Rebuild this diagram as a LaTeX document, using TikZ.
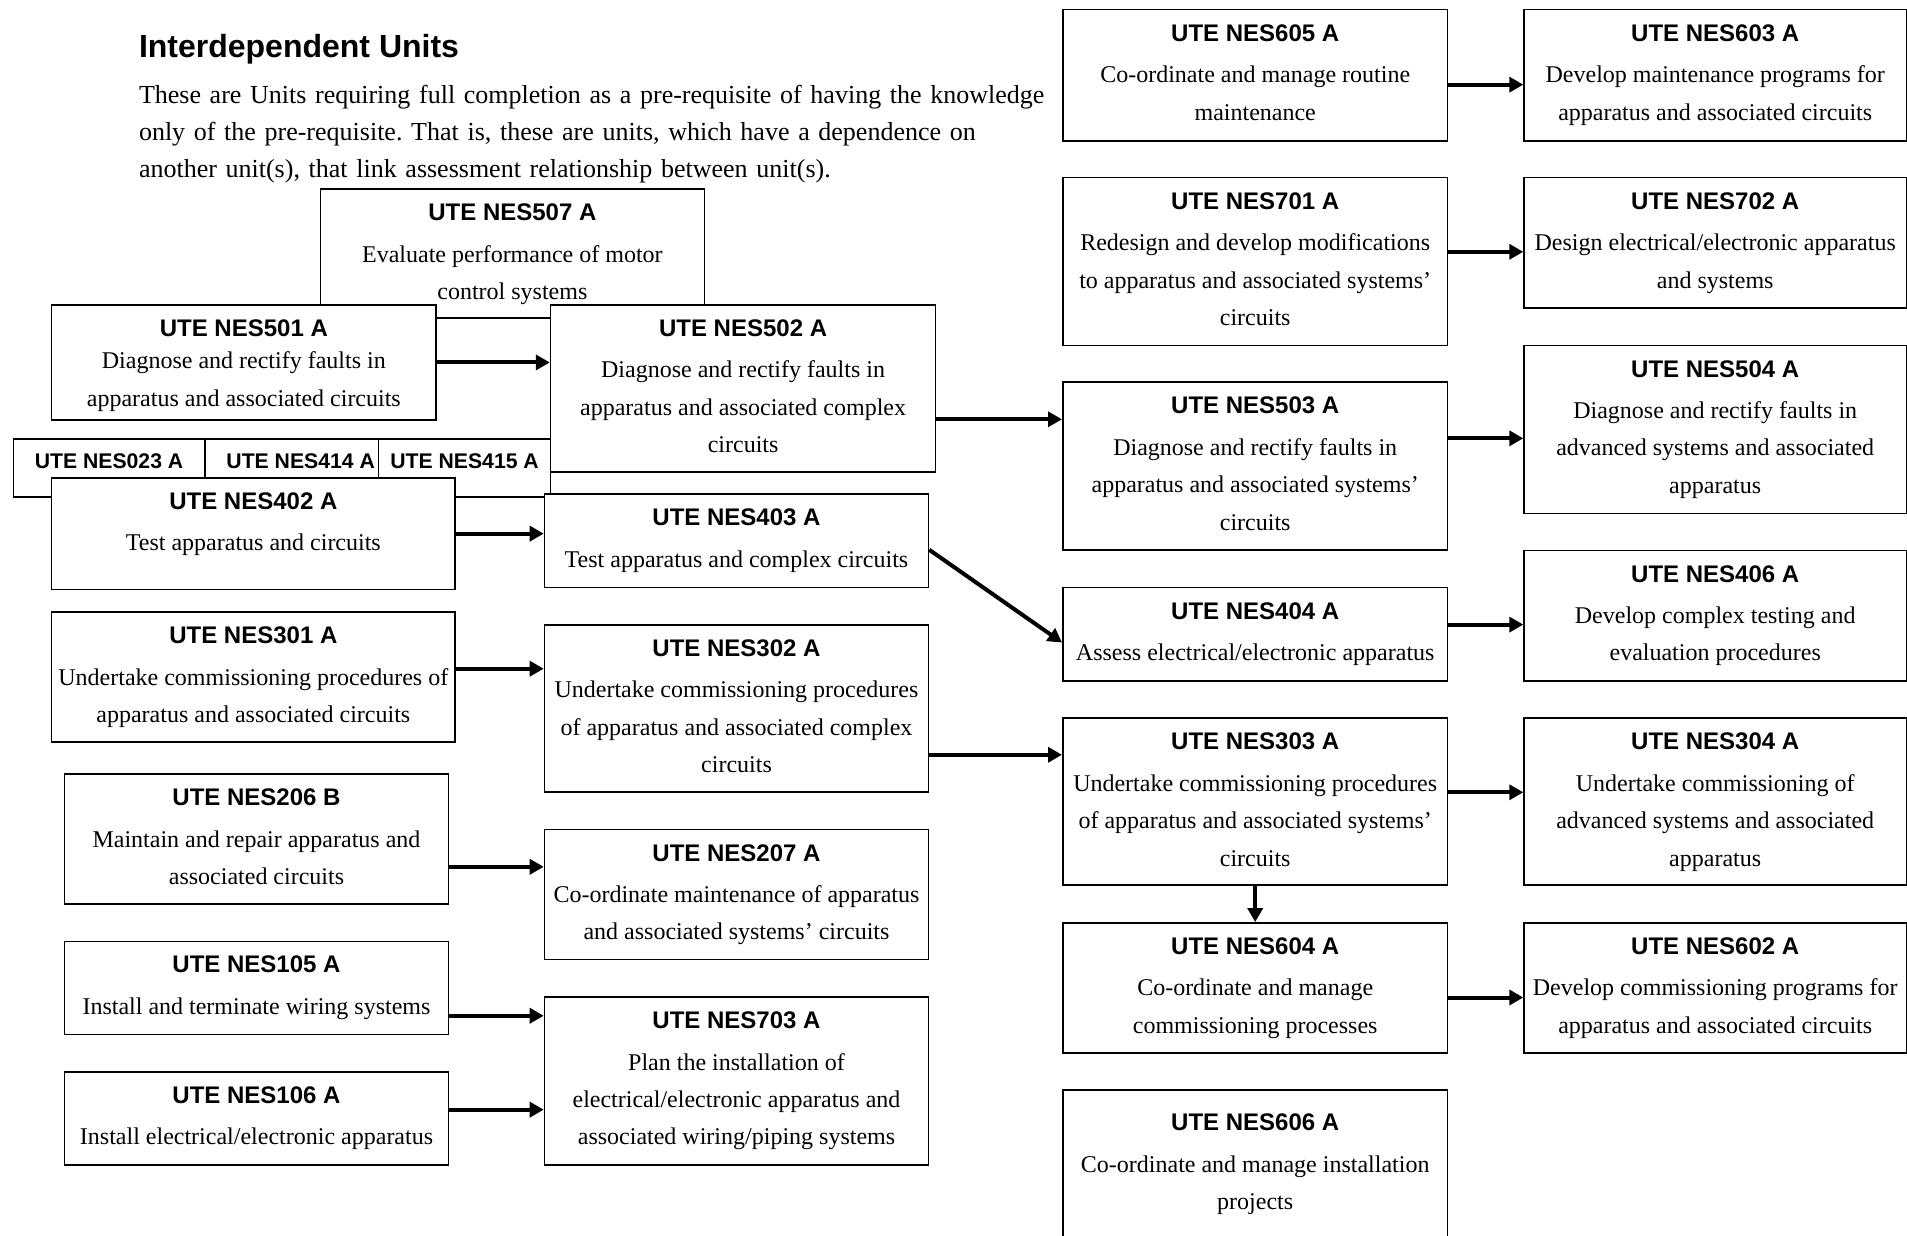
\documentclass[tikz,border=0pt]{standalone}
\usepackage{fontspec}
\setmainfont{Liberation Serif}
\setsansfont{Liberation Sans}
\usepackage{tikz}
\usetikzlibrary{arrows.meta}
\frenchspacing
\newlength{\pxu}
\setlength{\pxu}{0.5pt}
% card text: [strut] width, height (px), code, title
\newcommand{\unitcard}[5][15.8pt]{%
  \parbox[t][#3\pxu][t]{#2\pxu}{\centering
    \rule{0pt}{#1}{\sffamily\bfseries #4}\\[2pt]#5}}
\newcommand{\cellcode}{\fontsize{10.6pt}{12pt}\selectfont}
\tikzset{
  unitbox/.style={rectangle, draw=black, line width=0.8pt, fill=white,
                  inner sep=0pt, anchor=north west,
                  font=\fontsize{12pt}{18.7pt}\selectfont},
  arrow/.style={-{Triangle[length=7pt,width=7.5pt]}, line width=2pt},
}

\begin{document}
\begin{tikzpicture}[
    x=0.5pt,
    y=-0.5pt,
  ]
  \useasboundingbox (0,0) rectangle (1907,1236);
  \clip (0,0) rectangle (1907,1236);

  % Heading and intro text (top left)
  \node[anchor=base west, inner sep=0pt,
        font=\fontsize{16pt}{19pt}\selectfont\sffamily\bfseries] (heading) at (138.6,58) {Interdependent Units};
  \node[anchor=base west, inner sep=0pt, text width=480pt, align=left,
        font=\fontsize{13pt}{18.45pt}\selectfont] (intro) at (138.6,103.5)
    {These are Units requiring full completion as a pre-requisite of having the knowledge\\
     only of the pre-requisite. That is, these are units, which have a dependence on\\
     another unit(s), that link assessment relationship between unit(s).};

  % Left block: NES507 sits behind NES501 / NES502
  \node[unitbox] (n507) at (319.6,188.3) {\unitcard{384}{129}{UTE NES507 A}{Evaluate performance of motor\\control systems}};
  \node[unitbox] (n501) at (50.8,304)    {\unitcard{384.5}{115.3}{UTE NES501 A}{\vspace{-4.6pt}Diagnose and rectify faults in\\apparatus and associated circuits}};
  \node[unitbox] (n502) at (549.8,304)   {\unitcard{385}{167}{UTE NES502 A}{Diagnose and rectify faults in\\apparatus and associated complex\\circuits}};

  % Shared row of three units, partly hidden by NES402
  \node[unitbox] (n023) at (12.5,438)  {\unitcard[15pt]{191.5}{58}{\cellcode UTE NES023 A}{}};
  \node[unitbox] (n414) at (204,438)   {\unitcard[15pt]{173.8}{58}{\cellcode\hspace*{9pt}UTE NES414 A}{}};
  \node[unitbox] (n415) at (377.8,438) {\unitcard[15pt]{172}{58}{\cellcode UTE NES415 A}{}};

  % Left column
  \node[unitbox] (n402) at (50.8,477)   {\unitcard{403.5}{111.7}{UTE NES402 A}{Test apparatus and circuits}};
  \node[unitbox] (n301) at (50.8,611.4) {\unitcard{403.5}{130}{UTE NES301 A}{Undertake commissioning procedures of\\apparatus and associated circuits}};
  \node[unitbox] (n206) at (63.7,773.2) {\unitcard{384}{130}{UTE NES206 B}{Maintain and repair apparatus and\\associated circuits}};
  \node[unitbox] (n105) at (63.7,940.5) {\unitcard{384}{93.3}{UTE NES105 A}{Install and terminate wiring systems}};
  \node[unitbox] (n106) at (63.7,1071)  {\unitcard{384}{93.3}{UTE NES106 A}{Install electrical/electronic apparatus}};

  % Second column
  \node[unitbox] (n403) at (543.7,493.3) {\unitcard{384}{93.4}{UTE NES403 A}{Test apparatus and complex circuits}};
  \node[unitbox] (n302) at (543.7,624)   {\unitcard{384}{167.2}{UTE NES302 A}{Undertake commissioning procedures\\of apparatus and associated complex\\circuits}};
  \node[unitbox] (n207) at (543.7,828.7) {\unitcard{384}{130}{UTE NES207 A}{Co-ordinate maintenance of apparatus\\and associated systems' circuits}};
  \node[unitbox] (n703) at (543.7,996.3) {\unitcard{384}{168}{UTE NES703 A}{Plan the installation of\\electrical/electronic apparatus and\\associated wiring/piping systems}};

  % Third column
  \node[unitbox] (n605) at (1062,8.9)    {\unitcard{384.8}{131.1}{UTE NES605 A}{Co-ordinate and manage routine\\maintenance}};
  \node[unitbox] (n701) at (1062,176.8)  {\unitcard{384.8}{167.8}{UTE NES701 A}{Redesign and develop modifications\\to apparatus and associated systems'\\circuits}};
  \node[unitbox] (n503) at (1062,381.4)  {\unitcard{384.8}{167.9}{UTE NES503 A}{Diagnose and rectify faults in\\apparatus and associated systems'\\circuits}};
  \node[unitbox] (n404) at (1062,586.7)  {\unitcard{384.8}{93.2}{UTE NES404 A}{Assess electrical/electronic apparatus}};
  \node[unitbox] (n303) at (1062,717.4)  {\unitcard{384.8}{166.8}{UTE NES303 A}{Undertake commissioning procedures\\of apparatus and associated systems'\\circuits}};
  \node[unitbox] (n604) at (1062,922.1)  {\unitcard{384.8}{130.2}{UTE NES604 A}{Co-ordinate and manage\\commissioning processes}};
  \node[unitbox] (n606) at (1062,1089.4) {\unitcard[20.3pt]{384.8}{171}{UTE NES606 A}{Co-ordinate and manage installation\\projects}};

  % Right column
  \node[unitbox] (n603) at (1523.3,8.9)   {\unitcard{382.2}{131.1}{UTE NES603 A}{Develop maintenance programs for\\apparatus and associated circuits}};
  \node[unitbox] (n702) at (1523.3,176.8) {\unitcard{382.2}{130.3}{UTE NES702 A}{Design electrical/electronic apparatus\\and systems}};
  \node[unitbox] (n504) at (1523.3,344.6) {\unitcard{382.2}{167.9}{UTE NES504 A}{Diagnose and rectify faults in\\advanced systems and associated\\apparatus}};
  \node[unitbox] (n406) at (1523.3,549.7) {\unitcard{382.2}{130.2}{UTE NES406 A}{Develop complex testing and\\evaluation procedures}};
  \node[unitbox] (n304) at (1523.3,717.4) {\unitcard{382.2}{166.8}{UTE NES304 A}{Undertake commissioning of\\advanced systems and associated\\apparatus}};
  \node[unitbox] (n602) at (1523.3,922.1) {\unitcard{382.2}{130.2}{UTE NES602 A}{Develop commissioning programs for\\apparatus and associated circuits}};

  % Arrows -- left column to second column
  \draw[arrow] (n501.east) -- (n501.east -| n502.west);
  \draw[arrow] (n402.east) -- (n402.east -| n403.west);
  \draw[arrow] ([yshift=4.25pt]n301.east) -- ([yshift=4.25pt]n301.east -| n302.west);
  \draw[arrow] ([yshift=-13.9pt]n206.east) -- ([yshift=-13.9pt]n206.east -| n207.west);
  \draw[arrow] ([yshift=-13.9pt]n105.east) -- ([yshift=-13.9pt]n105.east -| n703.west);
  \draw[arrow] ([yshift=4.4pt]n106.east) -- ([yshift=4.4pt]n106.east -| n703.west);

  % Second column to third column
  \draw[arrow] ([yshift=-15.5pt]n502.east) -- ([yshift=-15.5pt]n502.east -| n503.west);
  \draw[arrow] ([yshift=-4.5pt]n403.east) -- ([yshift=-4.2pt]n404.west);
  \draw[arrow] ([yshift=-23.2pt]n302.east) -- ([yshift=-23.2pt]n302.east -| n303.west);

  % Third column to right column
  \draw[arrow] ([yshift=-4.7pt]n605.east) -- ([yshift=-4.7pt]n605.east -| n603.west);
  \draw[arrow] ([yshift=4.85pt]n701.east) -- ([yshift=4.85pt]n701.east -| n702.west);
  \draw[arrow] ([yshift=13.9pt]n503.east) -- ([yshift=13.9pt]n503.east -| n504.west);
  \draw[arrow] ([yshift=4.75pt]n404.east) -- ([yshift=4.75pt]n404.east -| n406.west);
  \draw[arrow] ([yshift=4.65pt]n303.east) -- ([yshift=4.65pt]n303.east -| n304.west);
  \draw[arrow] ([yshift=-4.75pt]n604.east) -- ([yshift=-4.75pt]n604.east -| n602.west);
  \draw[arrow] (n303.south) -- (n604.north);

\end{tikzpicture}
\end{document}
